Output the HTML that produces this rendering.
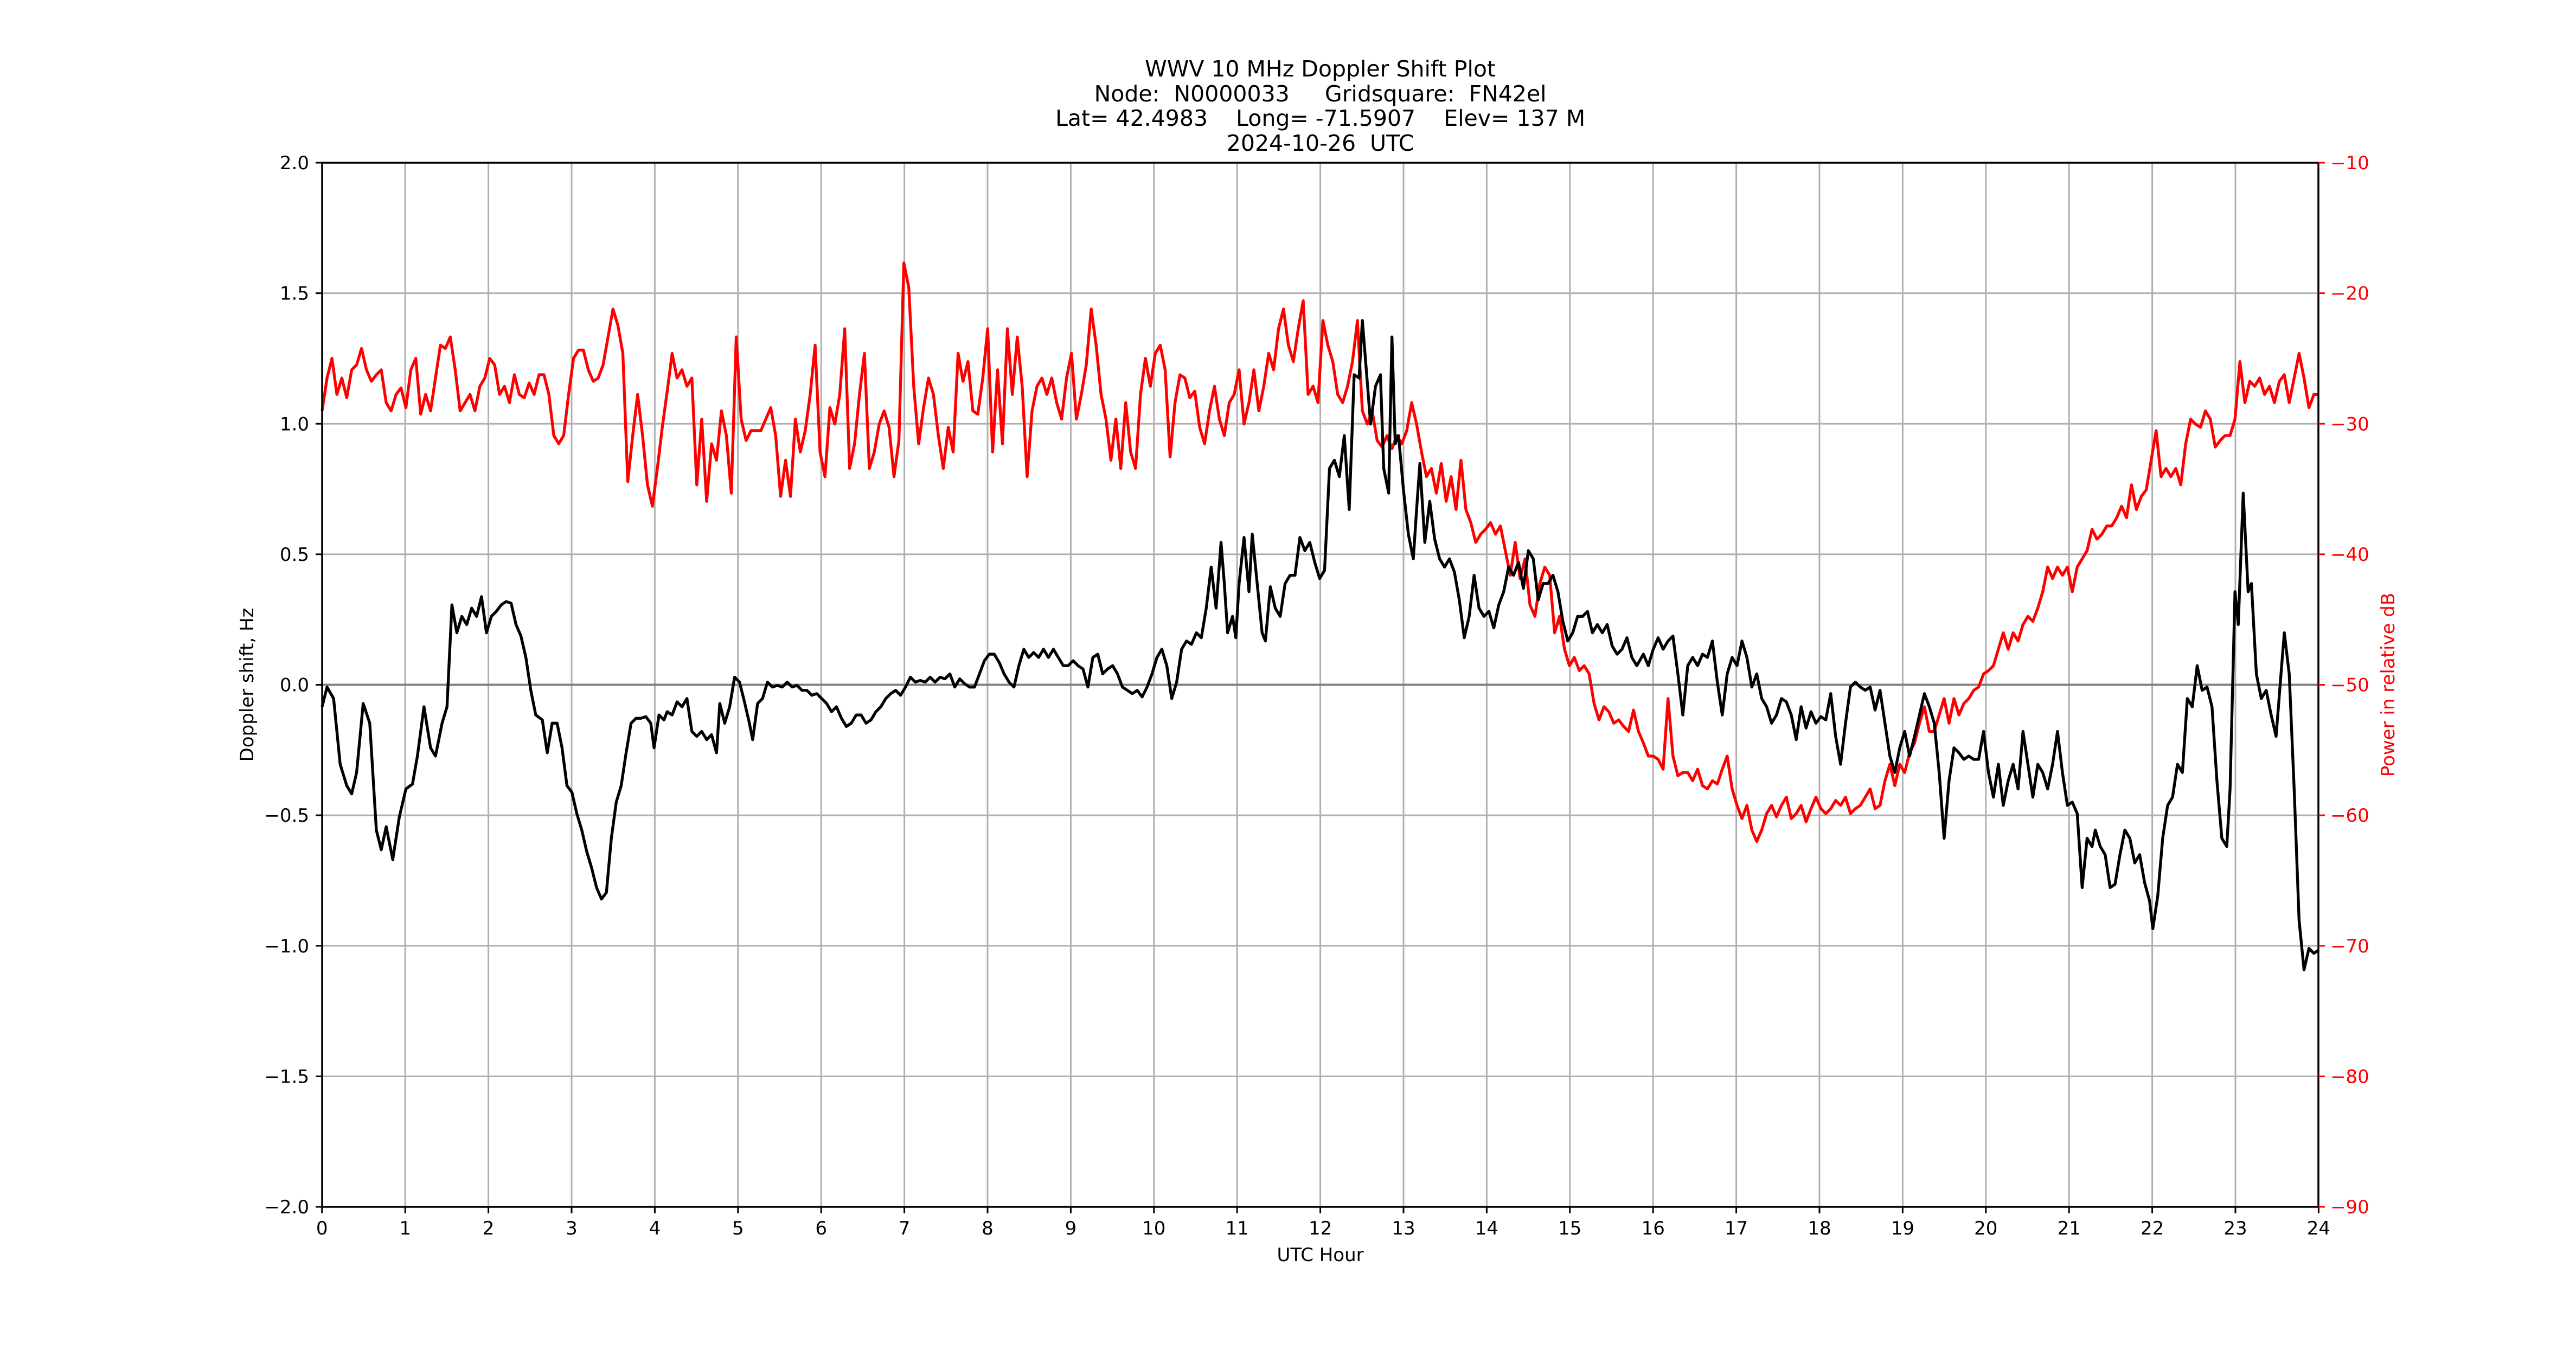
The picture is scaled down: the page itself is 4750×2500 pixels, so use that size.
<!DOCTYPE html>
<html><head><meta charset="utf-8"><style>html,body{margin:0;padding:0;background:#fff}svg{display:block}text{font-family:"DejaVu Sans","Liberation Sans",sans-serif}.pre{white-space:pre}</style></head><body>
<svg width="4750" height="2500" viewBox="0 0 4750 2500" xmlns="http://www.w3.org/2000/svg">
<rect width="4750" height="2500" fill="#fff"/>
<g stroke="#b0b0b0" stroke-width="3">
<line x1="747.2" y1="300" x2="747.2" y2="2225"/><line x1="900.6" y1="300" x2="900.6" y2="2225"/><line x1="1054" y1="300" x2="1054" y2="2225"/><line x1="1207.4" y1="300" x2="1207.4" y2="2225"/><line x1="1360.8" y1="300" x2="1360.8" y2="2225"/><line x1="1514.2" y1="300" x2="1514.2" y2="2225"/><line x1="1667.6" y1="300" x2="1667.6" y2="2225"/><line x1="1821" y1="300" x2="1821" y2="2225"/><line x1="1974.4" y1="300" x2="1974.4" y2="2225"/><line x1="2127.8" y1="300" x2="2127.8" y2="2225"/><line x1="2281.2" y1="300" x2="2281.2" y2="2225"/><line x1="2434.6" y1="300" x2="2434.6" y2="2225"/><line x1="2588" y1="300" x2="2588" y2="2225"/><line x1="2741.4" y1="300" x2="2741.4" y2="2225"/><line x1="2894.8" y1="300" x2="2894.8" y2="2225"/><line x1="3048.2" y1="300" x2="3048.2" y2="2225"/><line x1="3201.6" y1="300" x2="3201.6" y2="2225"/><line x1="3355" y1="300" x2="3355" y2="2225"/><line x1="3508.4" y1="300" x2="3508.4" y2="2225"/><line x1="3661.8" y1="300" x2="3661.8" y2="2225"/><line x1="3815.2" y1="300" x2="3815.2" y2="2225"/><line x1="3968.6" y1="300" x2="3968.6" y2="2225"/><line x1="4122" y1="300" x2="4122" y2="2225"/>
<line x1="594" y1="540.6" x2="4275" y2="540.6"/><line x1="594" y1="781.25" x2="4275" y2="781.25"/><line x1="594" y1="1021.9" x2="4275" y2="1021.9"/><line x1="594" y1="1503.1" x2="4275" y2="1503.1"/><line x1="594" y1="1743.75" x2="4275" y2="1743.75"/><line x1="594" y1="1984.4" x2="4275" y2="1984.4"/>
</g>
<line x1="594" y1="1262.5" x2="4275" y2="1262.5" stroke="#808080" stroke-width="4"/>
<g transform="scale(3.0303)" fill="none" stroke-linejoin="round" stroke-width="1.75">
<polyline stroke="#ff0000" points="196,250 199,230 202,218 205,240 208,230 211,242 214,225 217,222 220,212 223,225 226,232 229,228 232,225 235,245 238,250 241,240 244,236 247,248 250,225 253,218 256,252 259,240 262,250 265,230 268,210 271,212 274,205 277,225 280,250 283,245 286,240 289,250 292,235 295,230 298,218 301,222 304,240 307,235 310,245 313,228 316,240 319,242 322,233 325,240 328,228 331,228 334,240 337,265 340,270 343,265 346,240 349,218 352,213 355,213 358,225 361,232 364,230 367,222 370,205 373,188 376,198 379,215 382,293 385,265 388,240 391,265 394,295 397,308 400,285 403,260 406,238 409,215 412,230 415,225 418,235 421,230 424,295 427,255 430,305 433,270 436,280 439,250 442,265 445,300 448,205 451,255 454,268 457,262 460,262 463,262 466,255 469,248 472,265 475,302 478,280 481,302 484,255 487,275 490,262 493,240 496,210 499,275 502,290 505,248 508,258 511,240 514,200 517,285 520,270 523,240 526,215 529,285 532,275 535,258 538,250 541,260 544,290 547,268 550,160 553,175 556,235 559,270 562,248 565,230 568,240 571,265 574,285 577,260 580,275 583,215 586,232 589,220 592,250 595,252 598,230 601,200 604,275 607,225 610,270 613,200 616,240 619,205 622,235 625,290 628,250 631,235 634,230 637,240 640,230 643,245 646,255 649,230 652,215 655,255 658,240 661,222 664,188 667,210 670,240 673,255 676,280 679,255 682,285 685,245 688,275 691,285 694,240 697,218 700,235 703,215 706,210 709,225 712,278 715,245 718,228 721,230 724,242 727,238 730,260 733,270 736,250 739,235 742,255 745,265 748,245 751,240 754,225 757,258 760,245 763,225 766,250 769,235 772,215 775,225 778,200 781,188 784,210 787,220 790,200 793,183 796,240 799,235 802,245 805,195 808,210 811,220 814,240 817,245 820,235 823,220 826,195 829,250 832,258 835,250 838,268 841,272 844,265 847,273 850,265 853,270 856,262 859,245 862,258 865,275 868,290 871,285 874,300 877,282 880,305 883,290 886,310 889,280 892,310 895,318 898,330 901,325 904,322 907,318 910,325 913,320 916,335 919,350 922,330 925,352 928,340 931,368 934,375 937,355 940,345 943,350 946,385 949,375 952,395 955,405 958,400 961,408 964,405 967,410 970,428 973,438 976,430 979,433 982,440 985,438 988,442 991,445 994,432 997,445 1000,452 1003,460 1006,460 1009,462 1012,468 1015,425 1018,460 1021,472 1024,470 1027,470 1030,475 1033,468 1036,478 1039,480 1042,475 1045,477 1048,468 1051,460 1054,480 1057,490 1060,498 1063,490 1066,505 1069,512 1072,505 1075,495 1078,490 1081,497 1084,490 1087,485 1090,498 1093,495 1096,490 1099,500 1102,492 1105,485 1108,492 1111,495 1114,492 1117,487 1120,490 1123,485 1126,495 1129,492 1132,490 1135,485 1138,480 1141,492 1144,490 1147,475 1150,465 1153,478 1156,465 1159,470 1162,458 1165,452 1168,440 1171,430 1174,445 1177,445 1180,435 1183,425 1186,440 1189,425 1192,435 1195,428 1198,425 1201,420 1204,418 1207,410 1210,408 1213,405 1216,395 1219,385 1222,395 1225,385 1228,390 1231,380 1234,375 1237,378 1240,370 1243,360 1246,345 1249,352 1252,345 1255,350 1258,345 1261,360 1264,345 1267,340 1270,335 1273,322 1276,328 1279,325 1282,320 1285,320 1288,315 1291,308 1294,315 1297,295 1300,310 1303,302 1306,298 1309,280 1312,262 1315,290 1318,285 1321,290 1324,285 1327,295 1330,270 1333,255 1336,258 1339,260 1342,250 1345,255 1348,272 1351,268 1354,265 1357,265 1360,255 1363,220 1366,245 1369,232 1372,235 1375,230 1378,240 1381,235 1384,245 1387,232 1390,228 1393,245 1396,230 1399,215 1402,230 1405,248 1408,240 1411,240"/>
<polyline stroke="#000" points="196,430 199,418 203,425 207,465 211,478 214,483 217,470 221,428 225,440 229,505 232,517 235,503 239,523 243,497 247,480 251,477 254,460 258,430 262,455 265,460 269,440 272,430 275,368 278,385 281,375 284,380 287,370 290,375 293,363 296,385 299,375 302,372 305,368 308,366 311,367 314,380 317,387 320,400 323,420 326,435 330,438 333,458 336,440 339,440 342,455 345,478 348,482 351,495 354,505 357,518 360,528 363,540 366,547 369,543 372,510 375,488 378,478 381,458 384,440 387,437 390,437 393,436 396,440 398,455 401,435 404,438 406,433 409,435 412,427 415,430 418,425 421,445 424,448 427,445 430,450 433,447 436,458 438,428 441,440 444,430 447,412 450,415 453,427 456,440 458,450 461,428 464,425 467,415 470,418 473,417 476,418 479,415 482,418 485,417 488,420 491,420 494,423 497,422 500,425 503,428 506,433 509,430 512,437 515,442 518,440 521,435 524,435 527,440 530,438 533,433 536,430 539,425 542,422 545,420 548,423 551,418 554,412 557,415 560,414 563,415 566,412 569,415 572,412 575,413 578,410 581,418 584,413 587,416 590,418 593,418 596,410 599,402 602,398 605,398 608,403 611,410 614,415 617,418 620,405 623,395 626,400 629,397 632,400 635,395 638,400 641,395 644,400 647,405 650,405 653,402 656,405 659,407 662,418 665,400 668,398 671,410 674,407 677,405 680,410 683,418 686,420 689,422 692,420 695,424 698,418 701,410 704,400 707,395 710,405 713,425 716,415 719,395 722,390 725,392 728,385 731,388 734,370 737,345 740,370 743,330 745,355 747,385 750,375 752,388 754,355 757,327 760,360 762,325 765,355 768,385 770,390 773,357 776,370 779,375 782,355 785,350 788,350 791,327 794,335 797,330 800,342 803,352 806,347 809,285 812,280 815,290 818,265 821,310 824,228 827,230 829,195 831,220 834,258 837,235 840,228 842,285 845,300 847,205 849,270 851,265 854,298 857,325 860,340 862,310 864,282 867,330 870,305 873,328 876,340 879,345 882,340 885,348 888,365 891,388 894,375 897,350 900,370 903,375 906,372 909,382 912,368 915,360 918,345 921,350 924,342 927,358 930,335 933,340 936,365 939,355 942,355 945,350 948,360 951,378 954,390 957,385 960,375 963,375 966,372 969,385 972,380 975,385 978,380 981,393 984,398 987,395 990,388 993,400 996,405 1000,398 1003,405 1006,395 1009,388 1012,395 1015,390 1018,387 1021,410 1024,435 1027,405 1030,400 1033,405 1036,398 1039,400 1042,390 1045,415 1048,435 1051,410 1054,400 1057,405 1060,390 1063,400 1066,418 1069,410 1072,425 1075,430 1078,440 1081,435 1084,425 1087,427 1090,435 1093,450 1096,430 1099,443 1102,433 1105,440 1108,436 1111,438 1114,422 1117,448 1120,465 1123,440 1126,418 1129,415 1132,418 1135,420 1138,418 1141,432 1144,420 1147,440 1150,460 1153,470 1156,455 1159,445 1162,460 1165,448 1168,435 1171,422 1174,430 1177,440 1180,470 1183,510 1186,475 1189,455 1192,458 1195,462 1198,460 1201,462 1204,462 1207,445 1210,470 1213,485 1216,465 1219,490 1222,475 1225,465 1228,480 1231,445 1234,465 1237,485 1240,465 1243,470 1246,480 1249,465 1252,445 1255,470 1258,490 1261,488 1264,495 1267,540 1270,510 1273,515 1275,505 1278,515 1281,520 1284,540 1287,538 1290,520 1293,505 1296,510 1299,525 1302,520 1305,537 1308,548 1310,565 1313,545 1316,510 1319,490 1322,485 1325,465 1328,470 1331,425 1334,430 1337,405 1340,420 1343,418 1346,430 1349,475 1352,510 1355,515 1357,480 1360,360 1362,380 1365,300 1368,360 1370,355 1373,410 1376,425 1379,420 1382,435 1385,448 1388,410 1390,385 1393,410 1396,480 1399,560 1402,590 1405,577 1408,580 1411,578"/>
</g>
<rect x="594" y="300" width="3681" height="1925" fill="none" stroke="#000" stroke-width="3.5"/>
<g stroke="#000" stroke-width="3">
<line x1="582" y1="300" x2="594" y2="300"/><line x1="582" y1="540.6" x2="594" y2="540.6"/><line x1="582" y1="781.25" x2="594" y2="781.25"/><line x1="582" y1="1021.9" x2="594" y2="1021.9"/><line x1="582" y1="1262.5" x2="594" y2="1262.5"/><line x1="582" y1="1503.1" x2="594" y2="1503.1"/><line x1="582" y1="1743.75" x2="594" y2="1743.75"/><line x1="582" y1="1984.4" x2="594" y2="1984.4"/><line x1="582" y1="2225" x2="594" y2="2225"/>
<line x1="593.75" y1="2225" x2="593.75" y2="2237"/><line x1="747.2" y1="2225" x2="747.2" y2="2237"/><line x1="900.6" y1="2225" x2="900.6" y2="2237"/><line x1="1054" y1="2225" x2="1054" y2="2237"/><line x1="1207.4" y1="2225" x2="1207.4" y2="2237"/><line x1="1360.8" y1="2225" x2="1360.8" y2="2237"/><line x1="1514.2" y1="2225" x2="1514.2" y2="2237"/><line x1="1667.6" y1="2225" x2="1667.6" y2="2237"/><line x1="1821" y1="2225" x2="1821" y2="2237"/><line x1="1974.4" y1="2225" x2="1974.4" y2="2237"/><line x1="2127.8" y1="2225" x2="2127.8" y2="2237"/><line x1="2281.2" y1="2225" x2="2281.2" y2="2237"/><line x1="2434.6" y1="2225" x2="2434.6" y2="2237"/><line x1="2588" y1="2225" x2="2588" y2="2237"/><line x1="2741.4" y1="2225" x2="2741.4" y2="2237"/><line x1="2894.8" y1="2225" x2="2894.8" y2="2237"/><line x1="3048.2" y1="2225" x2="3048.2" y2="2237"/><line x1="3201.6" y1="2225" x2="3201.6" y2="2237"/><line x1="3355" y1="2225" x2="3355" y2="2237"/><line x1="3508.4" y1="2225" x2="3508.4" y2="2237"/><line x1="3661.8" y1="2225" x2="3661.8" y2="2237"/><line x1="3815.2" y1="2225" x2="3815.2" y2="2237"/><line x1="3968.6" y1="2225" x2="3968.6" y2="2237"/><line x1="4122" y1="2225" x2="4122" y2="2237"/><line x1="4275.4" y1="2225" x2="4275.4" y2="2237"/>
</g>
<g stroke="#ff0000" stroke-width="3">
<line x1="4275" y1="300" x2="4287" y2="300"/><line x1="4275" y1="540.6" x2="4287" y2="540.6"/><line x1="4275" y1="781.25" x2="4287" y2="781.25"/><line x1="4275" y1="1021.9" x2="4287" y2="1021.9"/><line x1="4275" y1="1262.5" x2="4287" y2="1262.5"/><line x1="4275" y1="1503.1" x2="4287" y2="1503.1"/><line x1="4275" y1="1743.75" x2="4287" y2="1743.75"/><line x1="4275" y1="1984.4" x2="4287" y2="1984.4"/><line x1="4275" y1="2225" x2="4287" y2="2225"/>
</g>
<g font-size="34" text-anchor="end" fill="#000">
<text x="570" y="312">2.0</text><text x="570" y="552.6">1.5</text><text x="570" y="793.25">1.0</text><text x="570" y="1033.9">0.5</text><text x="570" y="1274.5">0.0</text><text x="570" y="1515.1">−0.5</text><text x="570" y="1755.75">−1.0</text><text x="570" y="1996.4">−1.5</text><text x="570" y="2237">−2.0</text>
</g>
<g font-size="34" text-anchor="start" fill="#ff0000">
<text x="4297" y="312">−10</text><text x="4297" y="552.6">−20</text><text x="4297" y="793.25">−30</text><text x="4297" y="1033.9">−40</text><text x="4297" y="1274.5">−50</text><text x="4297" y="1515.1">−60</text><text x="4297" y="1755.75">−70</text><text x="4297" y="1996.4">−80</text><text x="4297" y="2237">−90</text>
</g>
<g font-size="34" text-anchor="middle" fill="#000">
<text x="593.75" y="2276">0</text><text x="747.2" y="2276">1</text><text x="900.6" y="2276">2</text><text x="1054" y="2276">3</text><text x="1207.4" y="2276">4</text><text x="1360.8" y="2276">5</text><text x="1514.2" y="2276">6</text><text x="1667.6" y="2276">7</text><text x="1821" y="2276">8</text><text x="1974.4" y="2276">9</text><text x="2127.8" y="2276">10</text><text x="2281.2" y="2276">11</text><text x="2434.6" y="2276">12</text><text x="2588" y="2276">13</text><text x="2741.4" y="2276">14</text><text x="2894.8" y="2276">15</text><text x="3048.2" y="2276">16</text><text x="3201.6" y="2276">17</text><text x="3355" y="2276">18</text><text x="3508.4" y="2276">19</text><text x="3661.8" y="2276">20</text><text x="3815.2" y="2276">21</text><text x="3968.6" y="2276">22</text><text x="4122" y="2276">23</text><text x="4275.4" y="2276">24</text>
<text x="2434.6" y="2325">UTC Hour</text>
<text transform="translate(467,1262.5) rotate(-90)">Doppler shift, Hz</text>
<text transform="translate(4415,1262.5) rotate(-90)" fill="#ff0000">Power in relative dB</text>
</g>
<g font-size="41" text-anchor="middle" fill="#000">
<text class="pre" x="2434.6" y="141">WWV 10 MHz Doppler Shift Plot</text>
<text class="pre" x="2434.6" y="187">Node:  N0000033     Gridsquare:  FN42el</text>
<text class="pre" x="2434.6" y="232">Lat= 42.4983    Long= -71.5907    Elev= 137 M</text>
<text class="pre" x="2434.6" y="278">2024-10-26  UTC</text>
</g>
</svg>
</body></html>
